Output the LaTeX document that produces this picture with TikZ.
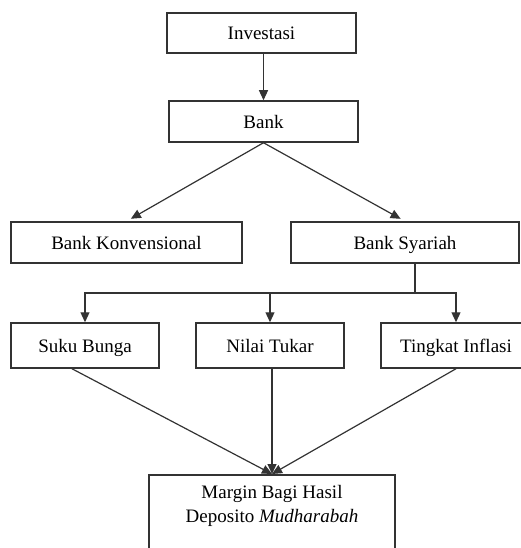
\documentclass[tikz,border=0pt]{standalone}
\usepackage{fontspec}
\setmainfont{Liberation Serif}
\usetikzlibrary{arrows.meta,calc}
\definecolor{LineClr}{rgb}{0.2,0.2,0.2}

\begin{document}
\begin{tikzpicture}[x=1pt,y=-1pt,
  box/.style={draw=LineClr,line width=1.5pt,inner sep=0pt,
    minimum height=41pt,font=\fontsize{19}{24}\selectfont},
  lbl/.style={text height=16pt,text depth=2pt},
  link/.style={draw=LineClr,line width=1.2pt,-{Triangle[length=10pt,width=9pt]}}]
\useasboundingbox (0,0) rectangle (520,548);

% top
\node[box,lbl,minimum width=189pt,minimum height=40pt] (inv) at (261.5,33) {Investasi};
\node[box,lbl,minimum width=189pt] (bank) at (263.5,121.5) {Bank};

% second level
\node[box,lbl,minimum width=231pt] (konv) at (126.5,242.5) {Bank Konvensional};
\node[box,lbl,minimum width=228pt] (syar) at (405,242.5) {Bank Syariah};

% factors
\node[box,lbl,minimum width=148pt,minimum height=45pt] (suku) at (85,345.5) {Suku Bunga};
\node[box,lbl,minimum width=148pt,minimum height=45pt] (nilai) at (270,345.5) {Nilai Tukar};
\node[box,lbl,minimum width=150pt,minimum height=45pt] (infl) at (456,345.5) {Tingkat Inflasi};

% result
\node[box,anchor=north,minimum width=246pt,inner ysep=11pt,align=center] (marg) at (272,474)
  {Margin Bagi Hasil\\Deposito \textit{Mudharabah}\\[40pt]\mbox{}};

\coordinate (split) at (415,293);

\draw[link] (inv.south -| bank.north) -- (bank.north);
\draw[link,shorten >=5pt] (bank.south) -- (konv.north);
\draw[link,shorten >=5pt] (bank.south) -- (syar.north);

\draw[draw=LineClr,line width=1.2pt] (syar.south -| split) -- (split);
\draw[link] (split) -| (suku.north);
\draw[link] (split) -| (nilai.north);
\draw[link] (split) -| (infl.north);

\draw[link] ([xshift=-13pt]suku.south) -- (marg.north);
\draw[link] (nilai.south -| marg.north) -- (marg.north);
\draw[link] (infl.south) -- (marg.north);

\end{tikzpicture}
\end{document}
